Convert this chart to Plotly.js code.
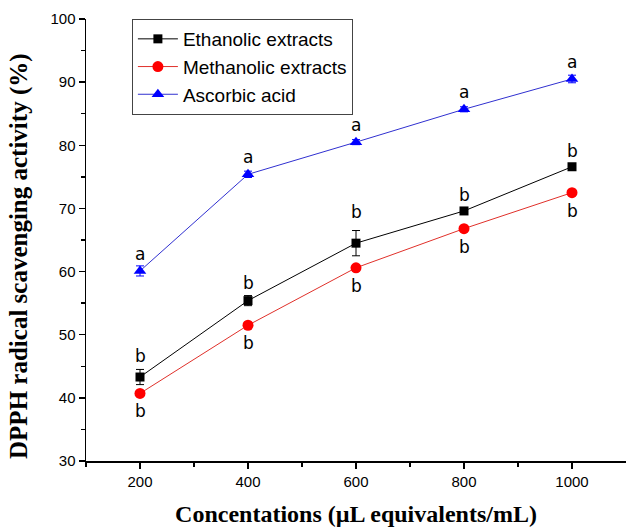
<!DOCTYPE html>
<html><head><meta charset="utf-8">
<script src="https://cdn.plot.ly/plotly-3.0.1.min.js"></script>
<style>body{margin:0;padding:0;background:#fff}</style>
</head><body>
<div id="chart" style="width:626px;height:528px"></div>
<script>
const conc = [200, 400, 600, 800, 1000];
const ethanolic = [43.3, 55.4, 64.5, 69.6, 76.6];
const ethanolicErr = [1.2, 0.8, 2.0, 0.5, 0.5];
const methanolic = [40.7, 51.5, 60.6, 66.8, 72.5];
const methanolicErr = [0.4, 0.4, 0.4, 0.4, 0.4];
const ascorbic = [60.1, 75.4, 80.5, 85.7, 90.5];
const ascorbicErr = [0.8, 0.5, 0.4, 0.4, 0.6];
const ascorbicLetters = ['a','a','a','a','a'];
const ethanolicLetters = ['b','b','b','b','b'];
const methanolicLetters = ['b','b','b','b','b'];
const yTitle = 'DPPH radical scavenging activity (%)';
const xTitle = 'Concentations (µL equivalents/mL)';

const traces = [
  {x: conc, y: ethanolic, name: 'Ethanolic extracts', mode: 'lines+markers',
   line: {color: '#000000', width: 1}, marker: {symbol: 'square', size: 9, color: '#000000'},
   error_y: {type: 'data', array: ethanolicErr, visible: true, color: '#000000', thickness: 1, width: 4}},
  {x: conc, y: methanolic, name: 'Methanolic extracts', mode: 'lines+markers',
   line: {color: '#e0302a', width: 1}, marker: {symbol: 'circle', size: 11, color: '#ff0000'},
   error_y: {type: 'data', array: methanolicErr, visible: true, color: '#ff0000', thickness: 1, width: 4}},
  {x: conc, y: ascorbic, name: 'Ascorbic acid', mode: 'lines+markers',
   line: {color: '#3030d0', width: 1}, marker: {symbol: 'triangle-up', size: 11, color: '#0000ff'},
   error_y: {type: 'data', array: ascorbicErr, visible: true, color: '#0000ff', thickness: 1, width: 4}}
];

const annotations = [];
const lf = {family: 'DejaVu Sans, sans-serif', size: 17, color: '#000'};
conc.forEach((c, i) => {
  annotations.push({x: c, y: ascorbic[i], text: ascorbicLetters[i], showarrow: false, yshift: 17, font: lf});
  // place ethanolic letters above the top of their error bar
  annotations.push({x: c, y: ethanolic[i] + ethanolicErr[i], text: ethanolicLetters[i], showarrow: false,
                    yshift: 13 + (ethanolicErr[i] > 1.5 ? 6 : 0), font: lf});
  annotations.push({x: c, y: methanolic[i], text: methanolicLetters[i], showarrow: false, yshift: -18, font: lf});
});
annotations.push({xref: 'paper', yref: 'paper', x: -0.124, y: 0.464, xanchor: 'center', yanchor: 'middle',
  textangle: -90, showarrow: false, text: yTitle,
  font: {family: 'Liberation Serif, Times New Roman, serif', size: 25, color: '#000', weight: 'bold'}});

const layout = {
  width: 626, height: 528,
  margin: {l: 86, r: 0, t: 19, b: 67},
  paper_bgcolor: '#fff', plot_bgcolor: '#fff',
  showlegend: true,
  legend: {x: 0.085, y: 1.0, xanchor: 'left', yanchor: 'top', bordercolor: '#444', borderwidth: 1,
           bgcolor: '#fff', font: {family: 'Liberation Sans, Arial, sans-serif', size: 19, color: '#000'},
           tracegroupgap: 0, itemwidth: 40},
  xaxis: {range: [100, 1100], tickvals: conc, ticks: 'outside', ticklen: 6, tickwidth: 1.5, tickcolor: '#000',
          showline: true, linecolor: '#000', linewidth: 1.5, showgrid: false, zeroline: false,
          minor: {tickvals: [100, 300, 500, 700, 900], ticks: 'outside', ticklen: 4, tickcolor: '#000', tickwidth: 1.5},
          tickfont: {family: 'Liberation Sans, Arial, sans-serif', size: 15, color: '#000'},
          title: {text: xTitle, standoff: 16,
                  font: {family: 'Liberation Serif, Times New Roman, serif', size: 24, color: '#000', weight: 'bold'}}},
  yaxis: {range: [30, 100], dtick: 10, ticks: 'outside', ticklen: 6, tickwidth: 1.5, tickcolor: '#000',
          showline: true, linecolor: '#000', linewidth: 1.5, showgrid: false, zeroline: false,
          minor: {dtick: 5, ticks: 'outside', ticklen: 4, tickcolor: '#000', tickwidth: 1.5},
          tickfont: {family: 'Liberation Sans, Arial, sans-serif', size: 15, color: '#000'}},
  annotations: annotations
};

Plotly.newPlot('chart', traces, layout, {displayModeBar: false, staticPlot: true});
</script>
</body></html>
